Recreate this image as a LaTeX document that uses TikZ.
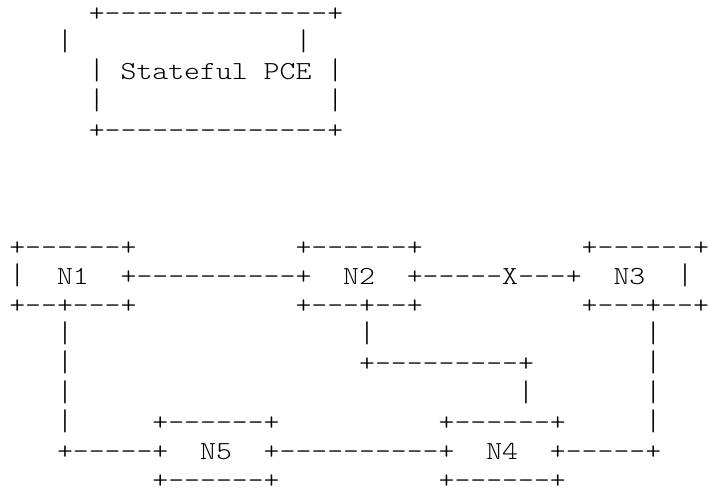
\documentclass[tikz,border=0pt]{standalone}
\usepackage{fontspec}
\setmonofont{Latin Modern Mono Light}[FakeStretch=1.165]
\tikzset{
  ch/.style={anchor=base west, inner sep=0pt, outer sep=0pt, text depth=0pt,
    font=\ttfamily\fontsize{26pt}{30pt}\selectfont, text=black}
}
\newcommand\putat[4]{\node[ch] (#1) at ({9.3pt+15.9pt*#2},{-(21.5pt+29.2pt*#3)}) {#4};}
\newcommand\vb{\scalebox{1}[1.15]{|}}
\begin{document}
\begin{tikzpicture}[x=1pt,y=1pt]
\useasboundingbox (0,0) rectangle (709,-493);
% Stateful PCE box
\putat{a0}{5}{0}{+--------------+}
\putat{a1l}{3}{1}{\vb}
\putat{a1r}{18}{1}{\vb}
\putat{a2l}{5}{2}{\vb}
\putat{pce}{7}{2}{Stateful PCE}
\putat{a2r}{20}{2}{\vb}
\putat{a3l}{5}{3}{\vb}
\putat{a3r}{20}{3}{\vb}
\putat{a4}{5}{4}{+--------------+}
% row 8
\putat{b0}{0}{8}{+------+}
\putat{b1}{18}{8}{+------+}
\putat{b2}{36}{8}{+------+}
% row 9
\putat{c0}{0}{9}{\vb}
\putat{n1}{3}{9}{N1}
\putat{c1}{7}{9}{+----------+}
\putat{n2}{21}{9}{N2}
\putat{c2}{25}{9}{+-----X---+}
\putat{n3}{38}{9}{N3}
\putat{c3}{42}{9}{\vb}
% row 10
\putat{d0}{0}{10}{+--+---+}
\putat{d1}{18}{10}{+---+--+}
\putat{d2}{36}{10}{+---+--+}
% row 11
\putat{e0}{3}{11}{\vb}
\putat{e1}{22}{11}{\vb}
\putat{e2}{40}{11}{\vb}
% row 12
\putat{f0}{3}{12}{\vb}
\putat{f1}{22}{12}{+---------+}
\putat{f2}{40}{12}{\vb}
% row 13
\putat{g0}{3}{13}{\vb}
\putat{g1}{32}{13}{\vb}
\putat{g2}{40}{13}{\vb}
% row 14
\putat{h0}{3}{14}{\vb}
\putat{h1}{9}{14}{+------+}
\putat{h2}{27}{14}{+------+}
\putat{h3}{40}{14}{\vb}
% row 15
\putat{i0}{3}{15}{+-----+}
\putat{n5}{12}{15}{N5}
\putat{i1}{16}{15}{+----------+}
\putat{n4}{30}{15}{N4}
\putat{i2}{34}{15}{+-----+}
% row 16
\putat{j0}{9}{16}{+------+}
\putat{j1}{27}{16}{+------+}
\end{tikzpicture}
\end{document}
